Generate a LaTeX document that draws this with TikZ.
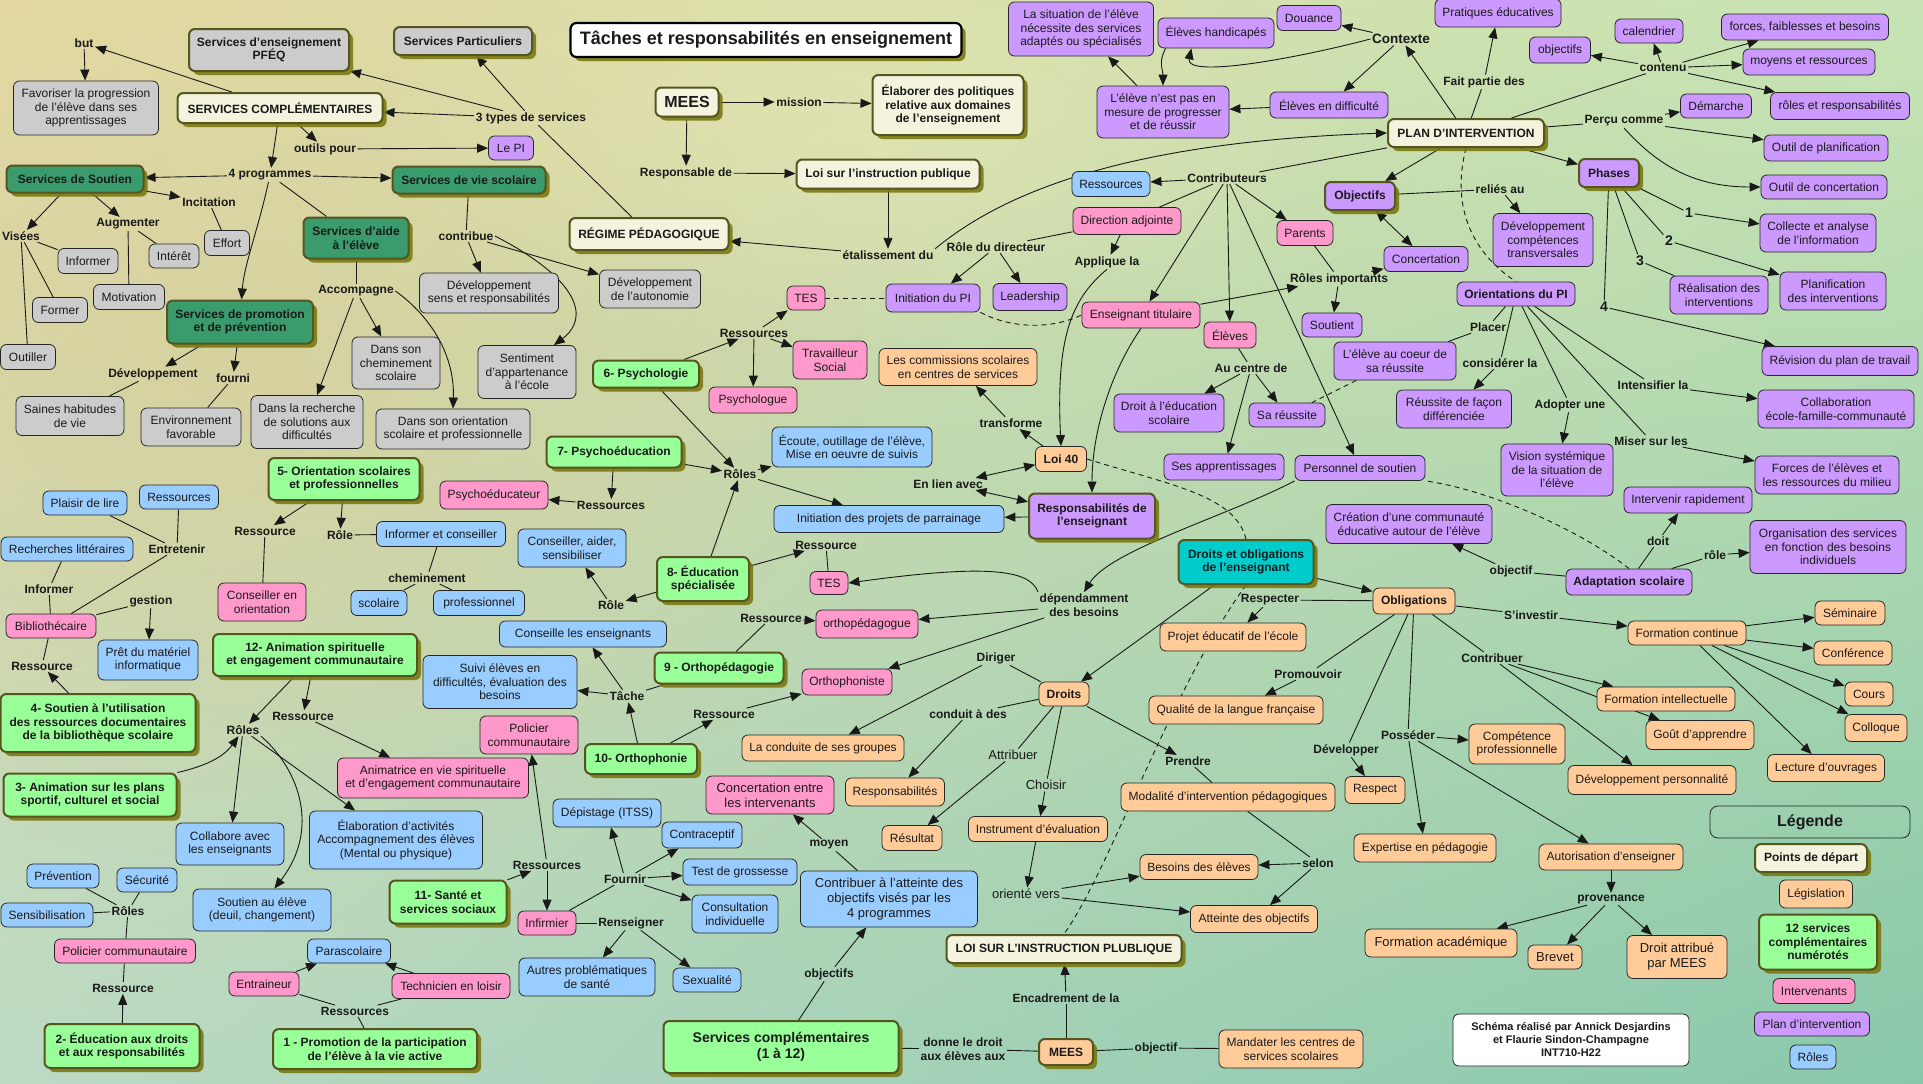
\documentclass[tikz,border=0pt]{standalone}
\usepackage{fontspec}
\setmainfont{Liberation Sans}
\usetikzlibrary{arrows.meta,shadows,shadings,fadings}
\tikzfading[name=blobfade, inner color=transparent!0, outer color=transparent!100]
\pgfdeclarelayer{bg}\pgfdeclarelayer{edges}
\pgfsetlayers{bg,edges,main}
\definecolor{cgray}{HTML}{CCCCCC}
\definecolor{cpink}{HTML}{FF99CC}
\definecolor{cblue}{HTML}{99CCFF}
\definecolor{cpurp}{HTML}{CC99FF}
\definecolor{corange}{HTML}{FFCC99}
\definecolor{clgreen}{HTML}{99FF99}
\definecolor{cdgreen}{HTML}{3A9B6C}
\definecolor{ccream}{HTML}{F3F3DE}
\definecolor{cteal}{HTML}{00CCCC}
\definecolor{colive}{HTML}{55551F}
\definecolor{cshadow}{HTML}{7A7A12}
\definecolor{ctext}{HTML}{1A1A1A}
\definecolor{bgUL}{HTML}{E6DAA2}
\definecolor{bgUR}{HTML}{C8E4B4}
\definecolor{bgLL}{HTML}{BBDAC4}
\definecolor{bgLR}{HTML}{88C8AA}
\definecolor{bgTan}{HTML}{D9CD96}
\definecolor{bgYel}{HTML}{EEEAB8}
\newcommand\nfs{\fontsize{12}{13.5}\selectfont}
\newcommand\bx[6]{\node[#1,minimum width=#4,minimum height=#5] (#2) at (#3) {#6};}
\newcommand\lb[4][lbl]{\node[#1] (#2) at (#3) {#4};}
\tikzset{
 box/.style={rectangle, rounded corners=6pt, draw=black!85, line width=0.8pt, align=center, inner sep=1pt, text=ctext, font=\nfs},
 strong/.style={draw=colive, line width=2pt, font=\nfs\bfseries, drop shadow={shadow xshift=4pt, shadow yshift=-4pt, fill=cshadow, opacity=0.9}},
 gbox/.style={box, fill=cgray},
 gboxb/.style={gbox, strong},
 pbox/.style={box, fill=cpink},
 bbox/.style={box, fill=cblue},
 ubox/.style={box, fill=cpurp},
 uboxb/.style={ubox, strong},
 uboxf/.style={ubox, font=\nfs\bfseries},
 obox/.style={box, fill=corange},
 oboxf/.style={obox, font=\nfs\bfseries},
 oboxb/.style={obox, strong},
 lgbox/.style={box, fill=clgreen, strong},
 dgbox/.style={box, fill=cdgreen, strong},
 cbox/.style={box, fill=ccream, strong},
 tbox/.style={box, fill=cteal, strong},
 lbl/.style={font=\nfs\bfseries, inner sep=1.5pt, align=center, text=ctext},
 lbln/.style={font=\nfs, inner sep=1.5pt, align=center, text=ctext},
 ar/.style={-{Triangle[length=11pt,width=9pt]}},
 dar/.style={{Triangle[length=11pt,width=9pt]}-{Triangle[length=11pt,width=9pt]}},
 dsh/.style={dash pattern=on 5pt off 4pt},
}
\begin{document}
\begin{tikzpicture}[x=1pt,y=-1pt]
\useasboundingbox (0,0) rectangle (1923,1084);
\begin{pgfonlayer}{bg}
\shade[upper left=bgUL, upper right=bgUR, lower left=bgLL, lower right=bgLR] (0,0) rectangle (1923,1084);
\fill[bgTan, path fading=blobfade, fill opacity=0.6] (250,380) ellipse (700 and 480);
\fill[bgYel, path fading=blobfade, fill opacity=0.45] (850,130) ellipse (520 and 220);
\end{pgfonlayer}

% ---------- top left
\lb{but}{84,43}{but}
\bx{gbox}{fav}{86,108}{145}{54}{Favoriser la progression\\de l'élève dans ses\\apprentissages}
\bx{gboxb}{pfeq}{269,50}{160}{42}{Services d'enseignement\\PFÉQ}
\bx{gboxb}{part}{463,41}{138}{28}{Services Particuliers}
\bx{cbox}{sc}{280,108}{205}{30}{SERVICES COMPLÉMENTAIRES}
\lb{types}{531,118}{3 types de services}
\lb{outils}{325,149}{outils pour}
\bx{ubox}{lepi}{511,148}{45}{24}{Le PI}
\lb{prog4}{270,175}{4 programmes}
\bx{dgbox}{sout}{75,179}{137}{27}{Services de Soutien}
\bx{dgbox}{vie}{469,180}{153}{27}{Services de vie scolaire}
\bx{dgbox}{aide}{356,238}{105}{41}{Services d'aide\\à l'élève}
\bx{dgbox}{promo}{240,322}{146}{43}{Services de promotion\\et de prévention}
\lb{incit}{209,202}{Incitation}
\lb{augm}{128,224}{Augmenter}
\lb{visees}{21,236}{Visées}
\bx{gbox}{inf1}{88,261}{60}{25}{Informer}
\bx{gbox}{inter}{174,256}{50}{24}{Intérêt}
\bx{gbox}{eff}{227,243}{45}{25}{Effort}
\bx{gbox}{motiv}{129,297}{71}{25}{Motivation}
\bx{gbox}{form}{60,310}{55}{25}{Former}
\bx{gbox}{outil}{28,357}{55}{25}{Outiller}
\lb{contrib}{466,236}{contribue}
\lb{accomp}{356,291}{Accompagne}
\bx{gbox}{devsens}{489,293}{139}{40}{Développement\\sens et responsabilités}
\bx{gbox}{devaut}{650,289}{101}{38}{Développement\\de l'autonomie}
\bx{gbox}{chem}{396,363}{88}{52}{Dans son\\cheminement\\scolaire}
\bx{gbox}{sent}{527,372}{98}{53}{Sentiment\\d'appartenance\\à l'école}
\lb{devlab}{153,374}{Développement}
\lb{fourni}{233,378}{fourni}
\bx{gbox}{saines}{70,416}{108}{39}{Saines habitudes\\de vie}
\bx{gbox}{envir}{191,427}{100}{38}{Environnement\\favorable}
\bx{gbox}{rech}{307,422}{112}{53}{Dans la recherche\\de solutions aux\\difficultés}
\bx{gbox}{orient}{453,429}{154}{40}{Dans son orientation\\scolaire et professionnelle}

% ---------- top middle
\node[box, fill=white, draw=black, line width=2.2pt, font=\fontsize{18}{20}\selectfont\bfseries, minimum width=391, minimum height=34, drop shadow={shadow xshift=4pt, shadow yshift=-4pt, fill=cshadow, opacity=0.9}] (title) at (766,40) {Tâches et responsabilités en enseignement};
\bx{cbox,font=\fontsize{16}{18}\selectfont\bfseries}{mees1}{687,102}{63}{29}{MEES}
\lb{mission}{799,102}{mission}
\bx{cbox}{elab}{948,105}{151}{60}{Élaborer des politiques\\relative aux domaines\\de l'enseignement}
\lb{resp}{686,173}{Responsable de}
\bx{cbox}{loi}{888,174}{183}{29}{Loi sur l'instruction publique}
\bx{cbox}{regime}{649,234}{159}{32}{RÉGIME PÉDAGOGIQUE}
\lb{etab}{888,255}{étalissement du}
\bx{pbox}{tes1}{806,298}{38}{24}{TES}
\bx{ubox}{initpi}{933,298}{94}{28}{Initiation du PI}
\lb{ress6}{754,333}{Ressources}
\bx{pbox}{trav}{830,360}{74}{38}{Travailleur\\Social}
\bx{pbox}{psy}{753,400}{88}{26}{Psychologue}
\bx{obox}{comm}{958,367}{158}{37}{Les commissions scolaires\\en centres de services}
\lb{roledir}{996,247}{Rôle du directeur}
\bx{ubox}{lead}{1030,297}{74}{27}{Leadership}
\bx{pbox}{dirad}{1127,221}{108}{27}{Direction adjointe}
\lb{appl}{1107,262}{Applique la}
\bx{bbox}{ressb}{1111,184}{78}{25}{Ressources}
\lb{contr}{1227,178}{Contributeurs}
\bx{pbox}{enstit}{1141,315}{118}{26}{Enseignant titulaire}
\bx{pbox}{eleves}{1230,335}{52}{26}{Élèves}
\bx{pbox}{parents}{1305,233}{56}{25}{Parents}
\lb{rolimp}{1339,279}{Rôles importants}
\bx{ubox}{soutient}{1332,325}{60}{24}{Soutient}
\bx{uboxb}{objectifs}{1360,196}{70}{28}{Objectifs}
\bx{ubox}{concert}{1426,259}{84}{25}{Concertation}
\bx{ubox}{coeur}{1395,361}{122}{38}{L'élève au coeur de\\sa réussite}

% ---------- top right
\bx{ubox}{situ}{1081,29}{145}{54}{La situation de l'élève\\nécessite des services\\adaptés ou spécialisés}
\bx{ubox}{handi}{1216,33}{116}{30}{Élèves handicapés}
\bx{ubox}{douance}{1309,18}{64}{25}{Douance}
\lb[lbl,font=\fontsize{13.5}{15}\selectfont\bfseries]{contexte}{1401,39}{Contexte}
\bx{ubox}{pasmes}{1163,112}{132}{52}{L'élève n'est pas en\\mesure de progresser\\et de réussir}
\bx{ubox}{diff}{1329,105}{118}{26}{Élèves en difficulté}
\bx{cbox}{plan}{1466,133}{156}{28}{PLAN D'INTERVENTION}
\bx{ubox}{prat}{1498,13}{126}{28}{Pratiques éducatives}
\lb{faitp}{1484,82}{Fait partie des}
\bx{ubox}{objs}{1560,50}{61}{26}{objectifs}
\bx{ubox}{cal}{1649,31}{68}{24}{calendrier}
\lb{contenu}{1663,68}{contenu}
\bx{ubox}{forces}{1805,27}{167}{26}{forces, faiblesses et besoins}
\bx{ubox}{moyens}{1809,62}{132}{26}{moyens et ressources}
\bx{ubox}{roles}{1840,106}{139}{27}{rôles et responsabilités}
\bx{ubox}{demar}{1716,106}{71}{24}{Démarche}
\lb{percu}{1624,121}{Perçu comme}
\bx{ubox}{outplan}{1826,148}{124}{26}{Outil de planification}
\bx{ubox}{outconc}{1824,187}{126}{24}{Outil de concertation}
\bx{uboxb}{phases}{1609,173}{60}{28}{Phases}
\lb{relies}{1500,189}{reliés au}
\bx{ubox}{devcomp}{1543,240}{100}{53}{Développement\\compétences\\transversales}
\lb[lbl,font=\fontsize{14}{16}\selectfont\bfseries]{n1}{1689,213}{1}
\lb[lbl,font=\fontsize{14}{16}\selectfont\bfseries]{n2}{1669,241}{2}
\lb[lbl,font=\fontsize{14}{16}\selectfont\bfseries]{n3}{1640,261}{3}
\lb[lbl,font=\fontsize{14}{16}\selectfont\bfseries]{n4}{1604,307}{4}
\bx{ubox}{collecte}{1818,233}{116}{38}{Collecte et analyse\\de l'information}
\bx{ubox}{realis}{1719,295}{98}{38}{Réalisation des\\interventions}
\bx{ubox}{planif}{1833,291}{106}{38}{Planification\\des interventions}
\bx{uboxf}{orpi}{1516,294}{118}{24}{Orientations du PI}
\lb{placer}{1488,327}{Placer}
\bx{ubox}{revis}{1840,361}{156}{29}{Révision du plan de travail}
\lb{consid}{1500,363}{considérer la}
\bx{ubox}{reussd}{1454,409}{115}{38}{Réussite de façon\\différenciée}
\lb{intens}{1653,385}{Intensifier la}
\bx{ubox}{collab}{1836,409}{156}{38}{Collaboration\\école-famille-communauté}
\lb{adopt}{1570,405}{Adopter une}
\bx{ubox}{vision}{1557,470}{112}{52}{Vision systémique\\de la situation de\\l'élève}
\lb{miser}{1651,441}{Miser sur les}
\bx{ubox}{forcel}{1827,475}{144}{38}{Forces de l'élèves et\\les ressources du milieu}
\bx{ubox}{interv}{1688,500}{128}{26}{Intervenir rapidement}
\lb{doit}{1658,541}{doit}
\lb{role}{1715,555}{rôle}
\bx{ubox}{organ}{1828,547}{156}{53}{Organisation des services\\en fonction des besoins\\individuels}
\lb{objlab}{1511,571}{objectif}
\bx{uboxf}{adapt}{1629,582}{126}{26}{Adaptation scolaire}
\bx{ubox}{creat}{1409,524}{166}{39}{Création d'une communauté\\éducative autour de l'élève}

% ---------- centre
\bx{ubox}{droited}{1169,413}{110}{38}{Droit à l'éducation\\scolaire}
\lb{aucentre}{1251,368}{Au centre de}
\bx{ubox}{sareus}{1287,415}{76}{24}{Sa réussite}
\lb{transf}{1011,423}{transforme}
\bx{oboxf}{loi40}{1061,459}{51}{25}{Loi 40}
\bx{ubox}{sesapp}{1224,467}{120}{26}{Ses apprentissages}
\bx{ubox}{perso}{1360,468}{130}{25}{Personnel de soutien}
\bx{uboxb}{respens}{1092,516}{126}{45}{Responsabilités de\\l'enseignant}
\bx{tbox}{droitobl}{1246,562}{135}{44}{Droits et obligations\\de l'enseignant}
\lb{dependam}{1084,605}{dépendamment\\des besoins}
\lb{respecter}{1270,600}{Respecter}
\bx{oboxf}{oblig}{1414,601}{82}{26}{Obligations}
\bx{obox}{projet}{1233,637}{146}{28}{Projet éducatif de l'école}
\lb{diriger}{996,658}{Diriger}
\bx{oboxf}{droits}{1064,694}{50}{24}{Droits}
\lb{promouv}{1308,674}{Promouvoir}
\bx{obox}{qualite}{1236,710}{174}{28}{Qualité de la langue française}
\lb{enlien}{948,484}{En lien avec}
\bx{bbox}{initproj}{889,519}{230}{27}{Initiation des projets de parrainage}

% ---------- middle left
\bx{lgbox}{psych6}{646,374}{106}{27}{6- Psychologie}
\bx{bbox}{ecoute}{852,447}{160}{40}{Écoute, outillage de l'élève,\\Mise en oeuvre de suivis}
\bx{lgbox}{psy7}{614,452}{135}{31}{7- Psychoéducation}
\lb{roles7}{740,474}{Rôles}
\bx{pbox}{psyed}{494,495}{108}{28}{Psychoéducateur}
\lb{ress7}{611,505}{Ressources}
\bx{bbox}{consaid}{572,548}{108}{38}{Conseiller, aider,\\sensibiliser}
\bx{lgbox}{edspec}{703,579}{92}{44}{8- Éducation\\spécialisée}
\lb{ress8}{826,545}{Ressource}
\bx{pbox}{tes2}{829,583}{38}{23}{TES}
\lb{role8}{611,605}{Rôle}
\bx{bbox}{conseil}{583,634}{167}{26}{Conseille les enseignants}
\lb{ress9}{771,618}{Ressource}
\bx{pbox}{orthoped}{867,624}{102}{28}{orthopédagogue}
\bx{lgbox}{ortho9}{719,668}{129}{31}{9 - Orthopédagogie}
\bx{pbox}{orthoph}{847,682}{90}{26}{Orthophoniste}
\lb{tache}{627,696}{Tâche}
\lb{ress10}{724,714}{Ressource}
\lb{conduitlab}{968,714}{conduit à des}

% ---------- left
\bx{lgbox}{orient5}{344,479}{151}{42}{5- Orientation scolaires\\et professionnelles}
\bx{bbox}{plaisir}{85,503}{84}{24}{Plaisir de lire}
\bx{bbox}{ressbl}{179,497}{79}{24}{Ressources}
\bx{bbox}{rechlit}{67,549}{132}{24}{Recherches littéraires}
\lb{entret}{177,549}{Entretenir}
\lb{ress5}{265,531}{Ressource}
\lb{role5}{340,535}{Rôle}
\bx{bbox}{infcons}{441,534}{129}{25}{Informer et conseiller}
\lb{informlab}{49,589}{Informer}
\lb{gestion}{151,601}{gestion}
\lb{chemlab}{427,578}{cheminement}
\bx{pbox}{consor}{262,602}{88}{38}{Conseiller en\\orientation}
\bx{bbox}{scol}{379,603}{56}{25}{scolaire}
\bx{bbox}{prof}{479,603}{91}{25}{professionnel}
\bx{pbox}{biblio}{51,626}{90}{24}{Bibliothécaire}
\bx{bbox}{pret}{148,660}{100}{40}{Prêt du matériel\\informatique}
\lb{ress4}{42,666}{Ressource}
\bx{lgbox}{anim12}{315,655}{204}{42}{12- Animation spirituelle\\et engagement communautaire}
\bx{lgbox}{soutien4}{98,723}{195}{58}{4- Soutien à l'utilisation\\des ressources documentaires\\de la bibliothèque scolaire}
\lb{ress12}{303,716}{Ressource}
\bx{bbox}{suivi}{500,682}{154}{53}{Suivi élèves en\\difficultés, évaluation des\\besoins}

% ---------- bottom left
\lb{roles12}{243,730}{Rôles}
\bx{lgbox}{anim3}{90,795}{173}{43}{3- Animation sur les plans\\sportif, culturel et social}
\bx{pbox}{animatr}{433,778}{191}{40}{Animatrice en vie spirituelle\\et d'engagement communautaire}
\bx{bbox}{collabo}{230,844}{108}{42}{Collabore avec\\les enseignants}
\bx{bbox}{elabact}{396,840}{173}{58}{Élaboration d'activités\\Accompagnement des élèves\\(Mental ou physique)}
\bx{bbox}{prev}{63,876}{72}{24}{Prévention}
\bx{bbox}{secu}{147,880}{60}{24}{Sécurité}
\bx{bbox}{sensib}{47,915}{92}{24}{Sensibilisation}
\lb{roles2}{128,911}{Rôles}
\bx{bbox}{soutel}{262,910}{138}{42}{Soutien au élève\\(deuil, changement)}
\bx{lgbox}{sante11}{448,902}{117}{43}{11- Santé et\\services sociaux}
\bx{pbox}{polic1}{125,951}{141}{24}{Policier communautaire}
\bx{bbox}{parasc}{349,951}{83}{24}{Parascolaire}
\bx{pbox}{entrain}{264,984}{70}{24}{Entraineur}
\bx{pbox}{techn}{451,986}{118}{25}{Technicien en loisir}
\lb{ress2}{123,988}{Ressource}
\lb{ress1}{355,1011}{Ressources}
\bx{lgbox}{educ2}{122,1046}{155}{44}{2- Éducation aux droits\\et aux responsabilités}
\bx{lgbox}{promo1}{375,1049}{204}{40}{1 - Promotion  de la participation\\de l'élève à la vie active}

% ---------- bottom middle
\bx{pbox}{polic2}{529,735}{98}{38}{Policier\\communautaire}
\bx{lgbox}{ortho10}{641,759}{112}{30}{10- Orthophonie}
\bx{obox}{conduite}{823,748}{162}{26}{La conduite de ses groupes}
\bx{pbox,font=\fontsize{13}{15}\selectfont}{concent}{770,795}{128}{38}{Concertation entre\\les intervenants}
\bx{obox}{respons}{895,792}{99}{28}{Responsabilités}
\bx{bbox}{depist}{607,813}{108}{28}{Dépistage (ITSS)}
\bx{bbox}{contrac}{702,835}{80}{26}{Contraceptif}
\bx{obox}{resultat}{912,838}{60}{25}{Résultat}
\lb{ress11}{547,865}{Ressources}
\lb{fournir}{625,879}{Fournir}
\lb{moyen}{829,845}{moyen}
\bx{bbox}{test}{740,872}{114}{26}{Test de grossesse}
\bx{bbox,font=\fontsize{13}{15}\selectfont}{contratt}{889,899}{177}{56}{Contribuer à l'atteinte des\\objectifs visés par les\\4 programmes}
\bx{pbox}{infirm}{547,923}{58}{24}{Infirmier}
\lb{renseig}{631,923}{Renseigner}
\bx{bbox}{consult}{735,914}{86}{38}{Consultation\\individuelle}
\bx{bbox}{autres}{587,977}{136}{38}{Autres problématiques\\de santé}
\bx{bbox}{sexu}{707,980}{68}{24}{Sexualité}
\lb{objlab2}{829,974}{objectifs}
\bx{lgbox,font=\fontsize{14}{16}\selectfont\bfseries}{sc12}{781,1047}{235}{52}{Services complémentaires\\(1 à 12)}
\lb{donne}{963,1049}{donne le droit\\aux élèves aux}

% ---------- bottom right middle
\lb[lbln,font=\fontsize{13}{15}\selectfont]{attrib}{1013,755}{Attribuer}
\lb[lbln,font=\fontsize{13}{15}\selectfont]{choisir}{1046,785}{Choisir}
\lb{prendre}{1188,761}{Prendre}
\bx{obox}{modal}{1228,797}{214}{28}{Modalité d'intervention pédagogiques}
\lb{develop}{1346,750}{Développer}
\bx{obox}{respect}{1375,790}{60}{27}{Respect}
\lb{posseder}{1408,735}{Posséder}
\bx{obox}{instr}{1038,829}{139}{25}{Instrument d'évaluation}
\bx{obox}{expert}{1425,848}{142}{28}{Expertise en pédagogie}
\bx{obox}{besoins}{1199,867}{118}{25}{Besoins des élèves}
\lb{selon}{1318,863}{selon}
\lb[lbln,font=\fontsize{13}{15}\selectfont]{oriente}{1026,894}{orienté vers}
\bx{obox}{atteinte}{1254,919}{127}{27}{Atteinte des objectifs}
\bx{obox,font=\fontsize{13}{15}\selectfont}{formac}{1441,943}{152}{28}{Formation académique}
\bx{cbox}{loip}{1064,949}{235}{28}{LOI SUR L'INSTRUCTION PLUBLIQUE}
\lb{encadr}{1066,998}{Encadrement de la}
\bx{oboxb}{mees2}{1066,1052}{54}{26}{MEES}
\lb{objlab3}{1156,1048}{objectif}
\bx{obox}{mandat}{1291,1049}{144}{38}{Mandater les centres de\\services scolaires}

% ---------- right
\lb{sinv}{1531,615}{S'investir}
\bx{obox}{formcont}{1687,633}{118}{24}{Formation continue}
\bx{obox}{semin}{1850,613}{70}{24}{Séminaire}
\bx{obox}{confer}{1853,653}{78}{24}{Conférence}
\lb{contrib2}{1492,658}{Contribuer}
\bx{obox}{formint}{1666,699}{138}{24}{Formation intellectuelle}
\bx{obox}{cours}{1869,694}{48}{24}{Cours}
\bx{obox}{colloq}{1876,728}{62}{27}{Colloque}
\bx{obox}{comp}{1517,744}{96}{40}{Compétence\\professionnelle}
\bx{obox}{gout}{1700,735}{108}{29}{Goût d'apprendre}
\bx{obox}{devpers}{1652,780}{168}{29}{Développement personnalité}
\bx{obox}{lecture}{1826,768}{117}{27}{Lecture d'ouvrages}
\node[box, rounded corners=8pt, font=\fontsize{16}{18}\selectfont\bfseries, minimum width=200, minimum height=32] (legende) at (1810,822) {Légende};
\bx{cbox}{pdep}{1811,858}{112}{28}{Points de départ}
\bx{obox}{autor}{1611,857}{144}{26}{Autorisation d'enseigner}
\bx{obox}{legis}{1816,894}{73}{28}{Législation}
\lb{provn}{1611,899}{provenance}
\bx{lgbox}{serv12}{1818,942}{118}{55}{12 services\\complémentaires\\numérotés}
\bx{obox,font=\fontsize{13}{15}\selectfont}{brevet}{1555,957}{54}{24}{Brevet}
\bx{obox,font=\fontsize{13}{15}\selectfont}{droitattr}{1677,957}{100}{43}{Droit attribué\\par MEES}
\bx{pbox}{intervl}{1814,991}{82}{25}{Intervenants}
\bx{box,fill=white,font=\fontsize{11}{13}\selectfont\bfseries}{schema}{1571,1040}{236}{52}{Schéma réalisé par Annick Desjardins\\et Flaurie Sindon-Champagne\\INT710-H22}
\bx{ubox}{planl}{1812,1024}{115}{24}{Plan d'intervention}
\bx{bbox}{rolesl}{1813,1057}{46}{24}{Rôles}

% ================= connectors
\begin{pgfonlayer}{edges}
\begin{scope}[line width=0.9pt, draw=black!90]
% top left
\draw[ar] (sc) -- (but);
\draw[ar] (but) -- (fav);
\draw (regime) -- (types);
\draw[ar] (types) -- (part);
\draw[ar] (types) -- (sc);
\draw[ar] (types) -- (pfeq);
\draw[ar] (sc) -- (outils);
\draw[ar] (outils) -- (lepi);
\draw[ar] (sc) -- (prog4);
\draw[ar] (prog4) -- (sout);
\draw[ar] (prog4) -- (vie);
\draw[ar] (prog4) .. controls (258,230) and (244,265) .. (promo);
\draw (prog4) -- (aide);
\draw[ar] (sout) -- (visees);
\draw[ar] (sout) -- (augm);
\draw[ar] (sout) -- (incit);
\draw (incit) -- (eff);
\draw (augm) -- (motiv);
\draw (augm) -- (inter);
\draw (visees) -- (inf1);
\draw (visees) -- (form);
\draw (visees) -- (outil);
\draw (aide) -- (accomp);
\draw[ar] (accomp) -- (chem);
\draw[ar] (accomp) -- (rech);
\draw[ar] (accomp.east) .. controls (425,312) and (455,350) .. (orient.north);
\draw[ar] (promo) -- (devlab);
\draw[ar] (promo) -- (fourni);
\draw (devlab) -- (saines);
\draw (fourni) -- (envir);
\draw (vie) -- (contrib);
\draw[ar] (contrib) -- (devsens);
\draw[ar] (contrib) -- (devaut);
\draw[ar] (contrib.east) .. controls (580,280) and (590,318) .. (sent.45);
% top middle
\draw[ar] (mees1) -- (mission);
\draw[ar] (mission) -- (elab);
\draw[ar] (mees1) -- (resp);
\draw[ar] (resp) -- (loi);
\draw[ar] (loi) -- (etab);
\draw[ar] (etab) -- (regime);
\draw[ar] (etab.north east) .. controls (1000,195) and (1120,142) .. (plan.west);
\draw (plan) -- (contr);
\draw (dirad) -- (roledir);
\draw[ar] (roledir) -- (lead);
\draw[ar] (roledir) -- (initpi);
\draw[ar] (dirad) -- (appl);
\draw[ar] (appl.south) .. controls (1070,300) and (1056,340) .. (loi40.north);
\draw[ar] (enstit.south) .. controls (1112,370) and (1092,430) .. (respens.north);
\draw[dsh] (tes1) -- (initpi);
\draw[dsh] (initpi.south east) .. controls (1010,328) and (1050,330) .. (enstit.west);
\draw[ar] (contr) -- (ressb);
\draw (contr) -- (dirad);
\draw[ar] (contr) -- (enstit);
\draw[ar] (contr) -- (eleves);
\draw[ar] (contr) -- (parents);
\draw[ar] (contr) -- (perso);
\draw (parents) -- (rolimp);
\draw[ar] (enstit) -- (rolimp);
\draw[ar] (rolimp) -- (soutient);
\draw[ar] (rolimp) -- (concert);
\draw[dar] (objectifs) -- (concert);
\draw[ar] (plan) -- (objectifs);
\draw (objectifs) -- (relies);
\draw[ar] (relies) -- (devcomp);
\draw (eleves) -- (aucentre);
\draw[ar] (aucentre) -- (droited);
\draw[ar] (aucentre) -- (sareus);
\draw[ar] (aucentre) -- (sesapp);
\draw[dsh] (coeur) -- (sareus);
\draw[ar] (loi40) -- (transf);
\draw[ar] (transf) -- (comm);
\draw[dar] (loi40) -- (enlien);
\draw[dar] (respens) -- (enlien);
\draw[ar] (respens) -- (initproj);
\draw[dsh] (loi40.east) .. controls (1170,485) and (1235,495) .. (droitobl.north);
\draw[ar] (perso.south west) .. controls (1230,515) and (1110,550) .. (dependam.north);
\draw[ar] (dependam.north west) .. controls (1030,568) and (980,565) .. (tes2.east);
\draw[ar] (dependam) -- (orthoped);
\draw[ar] (dependam) -- (orthoph);
\draw[ar] (droitobl) -- (droits);
\draw[ar] (droitobl) -- (oblig);
\draw[dsh] (droitobl.south) .. controls (1170,690) and (1110,870) .. (loip.north);
\draw (droits) -- (diriger);
\draw[ar] (diriger) -- (conduite);
\draw (droits) -- (conduitlab);
\draw[ar] (conduitlab) -- (respons);
\draw (droits) -- (attrib);
\draw[ar] (attrib) -- (resultat);
\draw (droits) -- (choisir);
\draw[ar] (choisir) -- (instr);
\draw[ar] (droits) -- (prendre);
\draw (prendre) -- (modal);
\draw (modal) -- (selon);
\draw[ar] (selon) -- (besoins);
\draw[ar] (selon) -- (atteinte);
\draw[ar] (instr) -- (oriente);
\draw[ar] (oriente) -- (besoins);
\draw[ar] (oriente) -- (atteinte);
\draw (oblig) -- (respecter);
\draw[ar] (respecter) -- (projet);
\draw (oblig) -- (promouv);
\draw[ar] (promouv) -- (qualite);
\draw (oblig) -- (develop);
\draw[ar] (develop) -- (respect);
\draw (oblig) -- (posseder);
\draw[ar] (posseder) -- (expert);
\draw[ar] (posseder) -- (comp);
\draw[ar] (posseder) -- (autor);
\draw (oblig) -- (sinv);
\draw[ar] (sinv) -- (formcont);
\draw (oblig) -- (contrib2);
\draw[ar] (contrib2) -- (formint);
\draw[ar] (contrib2) -- (gout);
\draw[ar] (contrib2) -- (devpers);
\draw[ar] (formcont) -- (semin);
\draw[ar] (formcont) -- (confer);
\draw[ar] (formcont) -- (cours);
\draw[ar] (formcont) -- (colloq);
\draw[ar] (formcont) -- (lecture);
\draw[ar] (autor) -- (provn);
\draw[ar] (provn) -- (formac);
\draw[ar] (provn) -- (brevet);
\draw[ar] (provn) -- (droitattr);
\draw (sc12) -- (objlab2);
\draw[ar] (objlab2) -- (contratt);
\draw (contratt) -- (moyen);
\draw[ar] (moyen) -- (concent);
\draw (sc12) -- (donne);
\draw (donne) -- (mees2);
\draw (mees2) -- (encadr);
\draw[ar] (encadr) -- (loip);
\draw (mees2) -- (objlab3);
\draw (objlab3) -- (mandat);
% top right
\draw[ar] (contexte) -- (douance);
\draw[ar] (contexte.west) .. controls (1290,60) and (1185,78) .. (handi.212);
\draw[ar] (contexte) -- (diff);
\draw[ar] (handi.197) .. controls (1158,62) and (1163,70) .. (pasmes.north);
\draw[ar] (diff) -- (pasmes);
\draw[ar] (pasmes) -- (situ);
\draw[ar] (plan) -- (contexte);
\draw (plan) -- (faitp);
\draw[ar] (faitp) -- (prat);
\draw (plan) -- (contenu);
\draw[ar] (contenu) -- (objs);
\draw[ar] (contenu) -- (cal);
\draw[ar] (contenu) -- (forces);
\draw[ar] (contenu) -- (moyens);
\draw[ar] (contenu) -- (roles);
\draw (plan) -- (percu);
\draw[ar] (percu) -- (demar);
\draw[ar] (percu) -- (outplan);
\draw[ar] (percu.south) .. controls (1655,162) and (1690,187) .. (outconc.west);
\draw[ar] (plan) -- (phases);
\draw (phases) -- (n1);
\draw[ar] (n1) -- (collecte);
\draw (phases) -- (n2);
\draw[ar] (n2) -- (planif);
\draw (phases) -- (n3);
\draw (n3) -- (realis);
\draw (phases) -- (n4);
\draw[ar] (n4) -- (revis);
\draw[dsh] (plan.south) .. controls (1450,210) and (1475,255) .. (orpi.north);
\draw (orpi) -- (placer);
\draw (placer) -- (coeur);
\draw (orpi) -- (consid);
\draw[ar] (consid) -- (reussd);
\draw (orpi) -- (adopt);
\draw[ar] (adopt) -- (vision);
\draw (orpi) -- (intens);
\draw[ar] (intens) -- (collab);
\draw (orpi) -- (miser);
\draw[ar] (miser) -- (forcel);
\draw (adapt) -- (objlab);
\draw[ar] (objlab) -- (creat);
\draw (adapt) -- (doit);
\draw[ar] (doit) -- (interv);
\draw (adapt) -- (role);
\draw[ar] (role) -- (organ);
\draw[dsh] (adapt.north) .. controls (1580,530) and (1490,490) .. (perso.south east);
% middle left
\draw[ar] (psych6) -- (ress6);
\draw[ar] (ress6) -- (tes1);
\draw[ar] (ress6) -- (trav);
\draw[ar] (ress6) -- (psy);
\draw[ar] (psych6) -- (roles7);
\draw[ar] (psy7) -- (roles7);
\draw[ar] (psy7) -- (ress7);
\draw[ar] (ress7) -- (psyed);
\draw[ar] (edspec) -- (roles7);
\draw[ar] (roles7) -- (ecoute);
\draw[ar] (roles7) -- (initproj);
\draw[ar] (edspec) -- (ress8);
\draw (ress8) -- (tes2);
\draw[ar] (edspec) -- (role8);
\draw[ar] (role8) -- (consaid);
\draw (ortho9) -- (ress9);
\draw[ar] (ress9) -- (orthoped);
\draw (ortho9) -- (tache);
\draw[ar] (tache) -- (conseil);
\draw[ar] (tache) -- (suivi);
\draw[ar] (ortho10) -- (tache);
\draw[ar] (ortho10) -- (ress10);
\draw[ar] (ress10) -- (orthoph);
% left
\draw[ar] (orient5) -- (ress5);
\draw (ress5) -- (consor);
\draw[ar] (orient5) -- (role5);
\draw (role5) -- (infcons);
\draw (infcons) -- (chemlab);
\draw (chemlab) -- (scol);
\draw (chemlab) -- (prof);
\draw[ar] (soutien4) -- (ress4);
\draw (ress4) -- (biblio);
\draw (biblio) -- (informlab);
\draw (informlab) -- (rechlit);
\draw (biblio) -- (entret);
\draw (entret) -- (plaisir);
\draw (entret) -- (ressbl);
\draw (biblio) -- (gestion);
\draw[ar] (gestion) -- (pret);
\draw[ar] (anim12) -- (roles12);
\draw[ar] (anim12) -- (ress12);
\draw[ar] (ress12) -- (animatr);
\draw[ar] (anim3.north east) .. controls (210,765) and (225,755) .. (roles12);
\draw[ar] (roles12) -- (collabo);
\draw[ar] (roles12) -- (elabact);
\draw[ar] (roles12.south east) .. controls (300,770) and (320,830) .. (soutel.60);
\draw[ar] (educ2) -- (ress2);
\draw (ress2) -- (polic1);
\draw (polic1) -- (roles2);
\draw (roles2) -- (prev);
\draw (roles2) -- (secu);
\draw (roles2) -- (sensib);
\draw (promo1) -- (ress1);
\draw (ress1) -- (entrain);
\draw (ress1) -- (techn);
\draw[ar] (entrain) -- (parasc);
\draw[ar] (techn) -- (parasc);
\draw[ar] (sante11) -- (ress11);
\draw[ar] (ress11) -- (infirm);
\draw[ar] (ress11) -- (polic2);
\draw (infirm) -- (fournir);
\draw[ar] (fournir) -- (depist);
\draw[ar] (fournir) -- (contrac);
\draw[ar] (fournir) -- (test);
\draw[ar] (fournir) -- (consult);
\draw (infirm) -- (renseig);
\draw[ar] (renseig) -- (autres);
\draw[ar] (renseig) -- (sexu);
\end{scope}
\end{pgfonlayer}
\end{tikzpicture}
\end{document}
